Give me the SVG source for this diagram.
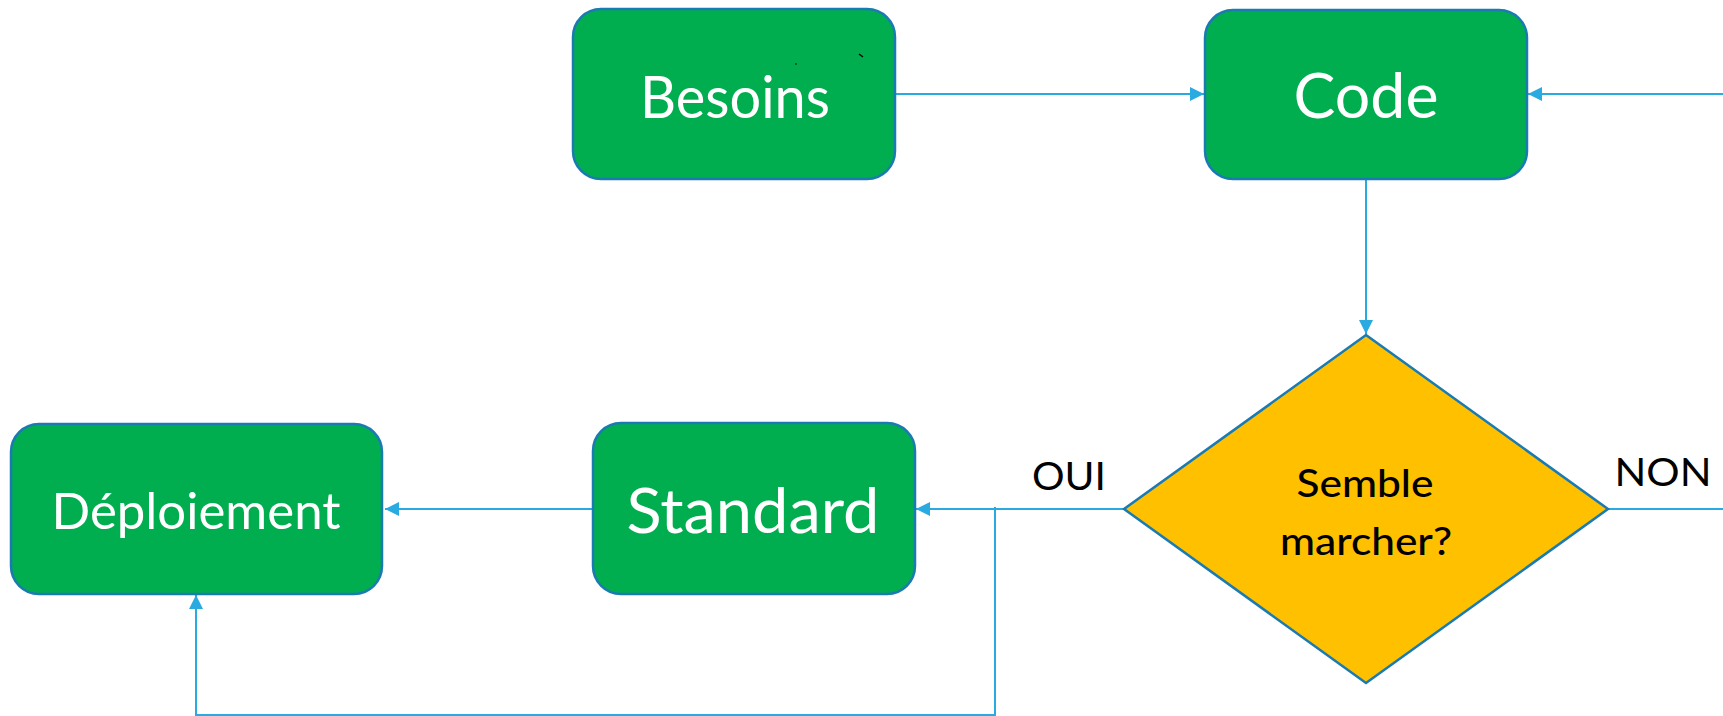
<svg xmlns="http://www.w3.org/2000/svg" width="1723" height="716" viewBox="0 0 1723 716">
  <style>
    .box { fill: #00ae50; stroke: #1a7ab2; stroke-width: 2.5; }
    .decision { fill: #ffc000; stroke: #1a7ab2; stroke-width: 2.5; }
    .label { font-family: Lato, "Liberation Sans", sans-serif; fill: #ffffff; text-anchor: middle; }
    .dark { font-family: Lato, "Liberation Sans", sans-serif; fill: #000000; text-anchor: middle; }
    .link { fill: none; stroke: #29abe2; stroke-width: 2; }
  </style>
  <defs>
    <marker id="arrow" viewBox="0 0 14 14" refX="14" refY="7" markerWidth="14" markerHeight="14" markerUnits="userSpaceOnUse" orient="auto">
      <path d="M0,0 L14,7 L0,14 Z" fill="#29abe2"/>
    </marker>
  </defs>

  <rect width="1723" height="716" fill="#ffffff"/>

  <!-- connectors -->
  <g id="connectors">
    <path class="link" d="M895,94 H1204" marker-end="url(#arrow)"/>
    <path class="link" d="M1723,94 H1528" marker-end="url(#arrow)"/>
    <path class="link" d="M1366,180 V334" marker-end="url(#arrow)"/>
    <path class="link" d="M1124,509 H916" marker-end="url(#arrow)"/>
    <path class="link" d="M1608,509 H1723"/>
    <path class="link" d="M592,509 H385" marker-end="url(#arrow)"/>
    <path class="link" d="M995,507 V715 H196 V595" marker-end="url(#arrow)"/>
  </g>

  <!-- Besoins -->
  <g id="besoins">
    <rect class="box" x="573" y="9" width="322" height="170" rx="28"/>
    <text class="label" x="735" y="118" font-size="59" textLength="190" lengthAdjust="spacingAndGlyphs">Besoins</text>
    <path d="M859,54 L863,57" stroke="#000" stroke-width="1.5"/>
    <circle cx="796" cy="64" r="0.8" fill="#000"/>
  </g>

  <!-- Code -->
  <g id="code">
    <rect class="box" x="1205" y="10" width="322" height="169" rx="28"/>
    <text class="label" x="1366" y="118" font-size="62" textLength="145" lengthAdjust="spacingAndGlyphs">Code</text>
  </g>

  <!-- Semble marcher? -->
  <g id="semble-marcher">
    <polygon class="decision" points="1366,335 1608,509 1366,683 1124,509"/>
    <text class="dark" x="1365" y="497" font-size="39" font-weight="500" textLength="137" lengthAdjust="spacingAndGlyphs">Semble</text>
    <text class="dark" x="1366" y="555" font-size="39" font-weight="500" textLength="172" lengthAdjust="spacingAndGlyphs">marcher?</text>
  </g>

  <!-- Standard -->
  <g id="standard">
    <rect class="box" x="593" y="423" width="322" height="171" rx="28"/>
    <text class="label" x="753" y="533" font-size="62" textLength="253" lengthAdjust="spacingAndGlyphs">Standard</text>
  </g>

  <!-- Déploiement -->
  <g id="deploiement">
    <rect class="box" x="11" y="424" width="371" height="170" rx="28"/>
    <text class="label" x="196" y="529" font-size="50" textLength="289" lengthAdjust="spacingAndGlyphs">Déploiement</text>
  </g>

  <!-- branch labels -->
  <g id="branch-labels">
    <text class="dark" x="1069" y="490" font-size="38" textLength="74" lengthAdjust="spacingAndGlyphs">OUI</text>
    <text class="dark" x="1663" y="486" font-size="38" textLength="97" lengthAdjust="spacingAndGlyphs">NON</text>
  </g>
</svg>
